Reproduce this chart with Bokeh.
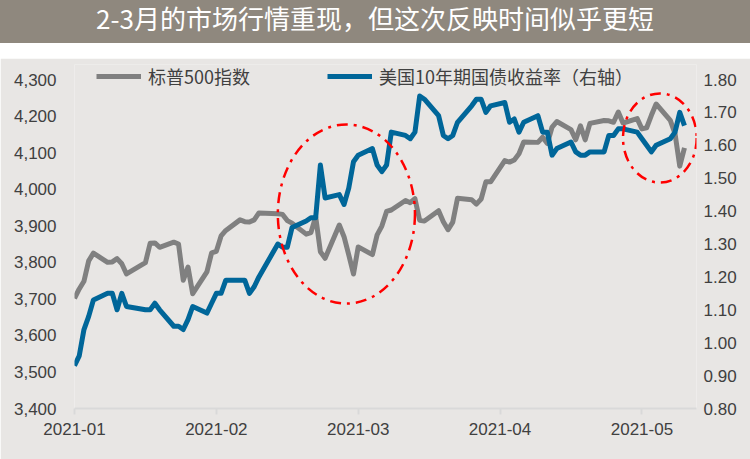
import pandas as pd
from bokeh.plotting import figure
from bokeh.models import (Range1d, LinearAxis, NumeralTickFormatter, FixedTicker,
                          Legend, LegendItem, Div, DatetimeTickFormatter)
from bokeh.layouts import column
from bokeh.embed import file_html
from bokeh.resources import INLINE

# ---------------- data ----------------
dates = [
    "2021-01-04", "2021-01-05", "2021-01-06", "2021-01-07", "2021-01-08", "2021-01-11", "2021-01-12",
    "2021-01-13", "2021-01-14", "2021-01-15", "2021-01-19", "2021-01-20", "2021-01-21", "2021-01-22",
    "2021-01-25", "2021-01-26", "2021-01-27", "2021-01-28", "2021-01-29",
    "2021-02-01", "2021-02-02", "2021-02-03", "2021-02-04", "2021-02-05", "2021-02-08", "2021-02-09",
    "2021-02-10", "2021-02-11", "2021-02-12", "2021-02-16", "2021-02-17", "2021-02-18", "2021-02-19",
    "2021-02-22", "2021-02-23", "2021-02-24", "2021-02-25", "2021-02-26",
    "2021-03-01", "2021-03-02", "2021-03-03", "2021-03-04", "2021-03-05", "2021-03-08", "2021-03-09",
    "2021-03-10", "2021-03-11", "2021-03-12", "2021-03-15", "2021-03-16", "2021-03-17", "2021-03-18",
    "2021-03-19", "2021-03-22", "2021-03-23", "2021-03-24", "2021-03-25", "2021-03-26", "2021-03-29",
    "2021-03-30", "2021-03-31",
    "2021-04-01", "2021-04-02", "2021-04-05", "2021-04-06", "2021-04-07", "2021-04-08", "2021-04-09",
    "2021-04-12", "2021-04-13", "2021-04-14", "2021-04-15", "2021-04-16", "2021-04-19", "2021-04-20",
    "2021-04-21", "2021-04-22", "2021-04-23", "2021-04-26", "2021-04-27", "2021-04-28", "2021-04-29",
    "2021-04-30",
    "2021-05-03", "2021-05-04", "2021-05-05", "2021-05-06", "2021-05-07", "2021-05-10", "2021-05-11",
    "2021-05-12", "2021-05-13",
]

spx = [
    3701, 3727, 3748, 3804, 3825, 3800, 3801, 3810, 3796, 3768, 3799, 3852, 3853, 3841,
    3855, 3850, 3751, 3787, 3714,
    3774, 3826, 3830, 3872, 3887, 3916, 3911, 3910, 3916, 3935, 3933, 3931, 3914, 3907,
    3877, 3881, 3925, 3829, 3811,
    3902, 3870, 3820, 3768, 3842, 3821, 3875, 3899, 3939, 3943, 3969, 3963, 3974, 3915,
    3913, 3941, 3911, 3889, 3910, 3975, 3971, 3959, 3973,
    4020, 4020, 4078, 4074, 4080, 4097, 4129, 4128, 4142, 4125, 4170, 4185, 4163, 4135,
    4173, 4135, 4180, 4188, 4187, 4183, 4211, 4181,
    4193, 4165, 4168, 4202, 4233, 4188, 4152, 4063, 4113,
]

ust10y = [
    0.93, 0.96, 1.04, 1.08, 1.13, 1.15, 1.15, 1.10, 1.15, 1.11, 1.10, 1.10, 1.12, 1.10,
    1.05, 1.05, 1.04, 1.07, 1.11,
    1.09, 1.12, 1.15, 1.15, 1.19, 1.19, 1.19, 1.15, 1.17, 1.20, 1.30, 1.29, 1.29, 1.35,
    1.37, 1.38, 1.38, 1.54, 1.44,
    1.45, 1.42, 1.47, 1.55, 1.57, 1.59, 1.54, 1.52, 1.54, 1.64, 1.63, 1.62, 1.64, 1.75,
    1.74, 1.69, 1.63, 1.62, 1.63, 1.67, 1.72, 1.74, 1.74,
    1.70, 1.72, 1.73, 1.67, 1.68, 1.64, 1.67, 1.69, 1.64, 1.64, 1.57, 1.59, 1.61, 1.58,
    1.57, 1.57, 1.58, 1.58, 1.63, 1.63, 1.65, 1.65,
    1.64, 1.62, 1.60, 1.58, 1.60, 1.62, 1.64, 1.70, 1.66,
]

tick_dates = ["2021-01-04", "2021-02-03", "2021-03-05", "2021-04-04", "2021-05-04"]
left_ticks = [3400, 3500, 3600, 3700, 3800, 3900, 4000, 4100, 4200, 4300]
right_ticks = [0.8, 0.9, 1.0, 1.1, 1.2, 1.3, 1.4, 1.5, 1.6, 1.7, 1.8]

series_names = ["标普500指数", "美国10年期国债收益率（右轴）"]
title_text = "2-3月的市场行情重现，但这次反映时间似乎更短"

# highlighted windows (dashed ellipses): date span and index level span
hl_start = ["2021-02-16T00:00", "2021-04-30T00:00"]
hl_end = ["2021-03-17T00:00", "2021-05-15T14:00"]
hl_low = [3687, 4018]
hl_high = [4177, 4262]

# ---------------- styles ----------------
BG = "#E8E6E4"
BAR = "#8F887E"
GRAY = "#808080"
BLUE = "#006699"
TXT = "#404040"
AX_FONT = "Liberation Sans"
CJK = "Noto Sans CJK SC"

W = 750
FIG_H = 401
FRAME_TOP_PAD = 15          # px of empty frame above the top tick (room for the legend)
FRAME_RIGHT_PAD = 12        # px of empty frame right of the last date (room for the ellipse)
AXIS_SPAN_PX = 329          # px between lowest and highest tick
DATA_SPAN_PX = 609          # px between first and last date

x = pd.to_datetime(dates)
pad_frac = FRAME_TOP_PAD / AXIS_SPAN_PX
y1_end = left_ticks[-1] + (left_ticks[-1] - left_ticks[0]) * pad_frac
y2_end = right_ticks[-1] + (right_ticks[-1] - right_ticks[0]) * pad_frac
x0, x1 = pd.Timestamp(dates[0]), pd.Timestamp(dates[-1])
x_end = x1 + (x1 - x0) * (FRAME_RIGHT_PAD / DATA_SPAN_PX)

p = figure(width=W, height=FIG_H, x_axis_type="datetime",
           x_range=Range1d(x0, x_end),
           y_range=Range1d(left_ticks[0], y1_end),
           output_backend="svg", toolbar_location=None,
           min_border_left=74, min_border_right=W - 74 - DATA_SPAN_PX - FRAME_RIGHT_PAD - 1,
           min_border_top=6, min_border_bottom=51)
p.background_fill_color = BG
p.border_fill_color = BG
p.outline_line_color = None
p.xgrid.visible = False
p.ygrid.visible = False

p.extra_y_ranges = {"y2": Range1d(right_ticks[0], y2_end)}

r_spx = p.line(x, spx, line_color=GRAY, line_width=5, line_join="round")
r_ust = p.line(x, ust10y, line_color=BLUE, line_width=5, line_join="round", y_range_name="y2")

# dashed ellipses
s = pd.to_datetime(hl_start, format="ISO8601")
e = pd.to_datetime(hl_end, format="ISO8601")
cx = s + (e - s) / 2
w_ms = [(b - a).total_seconds() * 1000 for a, b in zip(s, e)]
cy = [(lo + hi) / 2 for lo, hi in zip(hl_low, hl_high)]
hh = [hi - lo for lo, hi in zip(hl_low, hl_high)]
p.ellipse(x=list(cx), y=cy, width=w_ms, height=hh, fill_alpha=0,
          line_color="#FF0000", line_width=2.5, line_dash="11 6 3 6")

# x axis
xa = p.xaxis[0]
xa.ticker = FixedTicker(ticks=[pd.Timestamp(d).value / 1e6 for d in tick_dates])
fmt = "%Y-%m"
xa.formatter = DatetimeTickFormatter(microseconds=fmt, milliseconds=fmt, seconds=fmt, minsec=fmt,
                                     minutes=fmt, hourmin=fmt, hours=fmt, days=fmt, months=fmt, years=fmt)
xa.axis_line_color = "#D9D9D9"
xa.axis_line_width = 2
xa.major_tick_line_color = "#D9D9D9"
xa.major_tick_line_width = 2
xa.major_tick_out = 6
xa.major_tick_in = 0
xa.minor_tick_line_color = None
xa.major_label_text_font = AX_FONT
xa.major_label_text_font_size = "17px"
xa.major_label_text_color = TXT
xa.major_label_standoff = 8

# left axis
ya = p.yaxis[0]
ya.ticker = FixedTicker(ticks=left_ticks)
ya.formatter = NumeralTickFormatter(format="0,0")

# right axis
ya2 = LinearAxis(y_range_name="y2", ticker=FixedTicker(ticks=right_ticks),
                 formatter=NumeralTickFormatter(format="0.00"))
p.add_layout(ya2, "right")

for ax in (ya, ya2):
    ax.axis_line_color = None
    ax.major_tick_line_color = None
    ax.minor_tick_line_color = None
    ax.major_label_text_font = AX_FONT
    ax.major_label_text_font_size = "17px"
    ax.major_label_text_color = TXT
ya.major_label_standoff = 12
ya2.major_label_standoff = 1

legend = Legend(items=[LegendItem(label=series_names[0], renderers=[r_spx]),
                       LegendItem(label=series_names[1], renderers=[r_ust])],
                orientation="horizontal", location=(22, 319),
                padding=0, margin=0, spacing=77, glyph_width=45, glyph_height=20,
                label_standoff=7, label_text_font=CJK, label_text_font_size="18px",
                label_text_color=TXT, background_fill_alpha=0, border_line_alpha=0)
p.add_layout(legend)

title = Div(text=title_text, width=W, height=43, margin=(0, 0, 0, 0),
            styles={"background-color": BAR, "color": "white", "font-size": "26px",
                    "font-family": CJK, "text-align": "center", "line-height": "36px",
                    "width": f"{W}px", "height": "43px"})

layout = column(title, p, spacing=15)

open("out.html", "w").write(file_html(layout, INLINE))
